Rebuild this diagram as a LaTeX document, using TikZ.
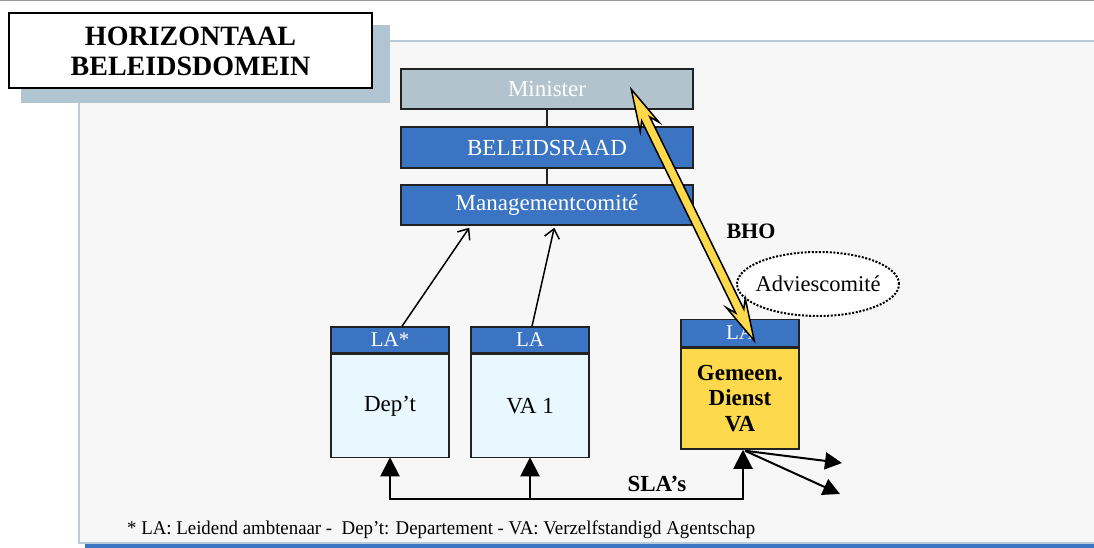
\documentclass[tikz,border=0pt]{standalone}
\usepackage{fontspec}
\setmainfont{Liberation Serif}
\usetikzlibrary{arrows.meta,calc,shapes.geometric}
\definecolor{panelbg}{HTML}{F7F7F7}
\definecolor{panelrim}{HTML}{B9C9D7}
\definecolor{shadowblue}{HTML}{B0C4D1}
\definecolor{ministergrey}{HTML}{B2C3CE}
\definecolor{boxblue}{HTML}{3B74C2}
\definecolor{palecyan}{HTML}{E9F7FE}
\definecolor{sunyellow}{HTML}{FFD94C}
\definecolor{outline}{HTML}{222222}
\begin{document}
\begin{tikzpicture}[x=1pt,y=-1pt,
  bigtext/.style={font=\fontsize{23}{26}\selectfont},
  bar/.style={draw=outline, line width=1.5pt, rectangle, minimum width=292pt,
    inner sep=0pt, text=white, bigtext},
  lahead/.style={draw=outline, line width=1.5pt, rectangle, fill=boxblue,
    minimum width=118pt, inner sep=0pt, text=white,
    font=\fontsize{21}{24}\selectfont},
  unitbody/.style={draw=outline, line width=1.5pt, rectangle,
    minimum width=118pt, inner sep=0pt, bigtext},
  report/.style={line width=1.5pt, -{Straight Barb[length=9pt,width=15pt,line width=1.5pt]}},
  slaline/.style={line width=2pt},
  slaarrow/.style={line width=2pt, -{Triangle[length=19pt,width=19pt]}},
  outarrow/.style={line width=2pt, -{Triangle[length=17pt,width=17pt]}},
  bhoarrow/.style={fill=sunyellow, draw=black, line width=1.5pt, line join=miter},
  boldlabel/.style={font=\bfseries\fontsize{23}{26}\selectfont}
]
\useasboundingbox (0,0) rectangle (1094,548);

% page rule and panel
\draw[gray!80, line width=1.5pt] (0,0.75) -- (1094,0.75);
\fill[panelbg] (79,41) rectangle (1094,543);
\draw[panelrim, line width=2pt] (1094,41) -- (79,41) -- (79,543) -- (1094,543);
\fill[boxblue] (85,544) rectangle (1094,548);

% title with its shadow
\fill[shadowblue] (21,25) rectangle (390,103);
\node[draw=black, line width=2pt, fill=white, rectangle, minimum width=363pt,
  minimum height=75pt, inner sep=0pt, align=center,
  font=\bfseries\fontsize{28}{30}\selectfont] (title) at (190.5,51)
  {HORIZONTAAL\\BELEIDSDOMEIN};

% hierarchy
\node[bar, fill=ministergrey, minimum height=40pt] (minister) at (547,89) {Minister};
\node[bar, fill=boxblue, minimum height=41pt] (beleid) at (547,147.5) {BELEIDSRAAD};
\node[bar, fill=boxblue, minimum height=40pt] (mgmt) at (547,205) {Managementcomité};
\draw[outline, line width=1.5pt] (minister) -- (beleid);
\draw[outline, line width=1.5pt] (beleid) -- (mgmt);

% entities
\node[lahead, minimum height=26pt] (deptla) at (390,340) {LA*};
\node[unitbody, fill=palecyan, minimum height=103pt, anchor=north] (dept)
  at (deptla.south) {Dep’t};
\node[lahead, minimum height=26pt] (va1la) at (530,340) {LA};
\node[unitbody, fill=palecyan, minimum height=103pt, anchor=north] (va1)
  at (va1la.south) {VA 1};
\node[unitbody, fill=sunyellow, minimum height=101pt, align=center,
  font=\bfseries\fontsize{23}{25.5}\selectfont] (gem) at (740,398.5)
  {Gemeen.\\Dienst\\VA};
\node[lahead, minimum height=27pt, anchor=south] (gemla) at (gem.north) {LA};

% reporting lines to the management committee
\draw[report] ($(deptla.north)+(12,0)$) -- ($(mgmt.south west)+(69,2)$);
\draw[report] ($(va1la.north)+(2,0)$) -- ($(mgmt.south west)+(154,2)$);

% advisory committee: dotted ellipse with its label
\node[ellipse, draw=black, fill=white, line width=2pt,
  dash pattern=on 2pt off 1.6pt, minimum width=162pt, minimum height=64pt,
  inner sep=0pt] (advies) at (818,284) {};
\node[font=\fontsize{22.5}{25}\selectfont, inner sep=0pt] (adviestext)
  at (advies.center) {Adviescomité};
\node[font=\bfseries\fontsize{22}{25}\selectfont] (bho) at (751,231) {BHO};

% BHO link between minister and the common service
\coordinate (bhoA) at ($(minister.north west)+(231,21)$);
\coordinate (bhoB) at ($(gemla.north west)+(74,22)$);
\draw[bhoarrow]
  (bhoA)
  -- ($(bhoA)!42pt!(bhoB)!10.5pt!90:(bhoB)$)
  -- ($(bhoA)!33pt!(bhoB)!4.5pt!90:(bhoB)$)
  -- ($(bhoB)!33pt!(bhoA)!4.5pt!-90:(bhoA)$)
  -- ($(bhoB)!42pt!(bhoA)!10.5pt!-90:(bhoA)$)
  -- (bhoB)
  -- ($(bhoB)!42pt!(bhoA)!10.5pt!90:(bhoA)$)
  -- ($(bhoB)!33pt!(bhoA)!4.5pt!90:(bhoA)$)
  -- ($(bhoA)!33pt!(bhoB)!4.5pt!-90:(bhoB)$)
  -- ($(bhoA)!42pt!(bhoB)!10.5pt!-90:(bhoB)$)
  -- cycle;

% service level agreements
\coordinate (busL) at (dept.south |- 0,499);
\coordinate (busM) at (va1.south |- 0,499);
\coordinate (busR) at ($(gem.south |- 0,499)+(3,0)$);
\draw[slaline, line cap=rect] (busL) -- (busR);
\draw[slaarrow, shorten >=-1pt] (busL) -- (dept.south);
\draw[slaarrow, shorten >=-1pt] (busM) -- (va1.south);
\draw[slaarrow] (busR) -- ($(gem.south)+(3,0)$);
\node[boldlabel] (sla) at (657,484) {SLA’s};

% services delivered outward
\coordinate (out1) at (842,463);
\coordinate (out2) at (840,494);
\draw[outarrow] ($(gem.south)+(5,1)$) -- (out1);
\draw[outarrow] ($(gem.south)+(5,1)$) -- (out2);

% footnote
\node[anchor=base west, inner sep=0pt] (note) at (127,534)
  {\resizebox{628pt}{\height}{\fontsize{19.5}{22}\selectfont * LA: Leidend ambtenaar -~ Dep’t: Departement - VA: Verzelfstandigd Agentschap}};
\end{tikzpicture}
\end{document}
